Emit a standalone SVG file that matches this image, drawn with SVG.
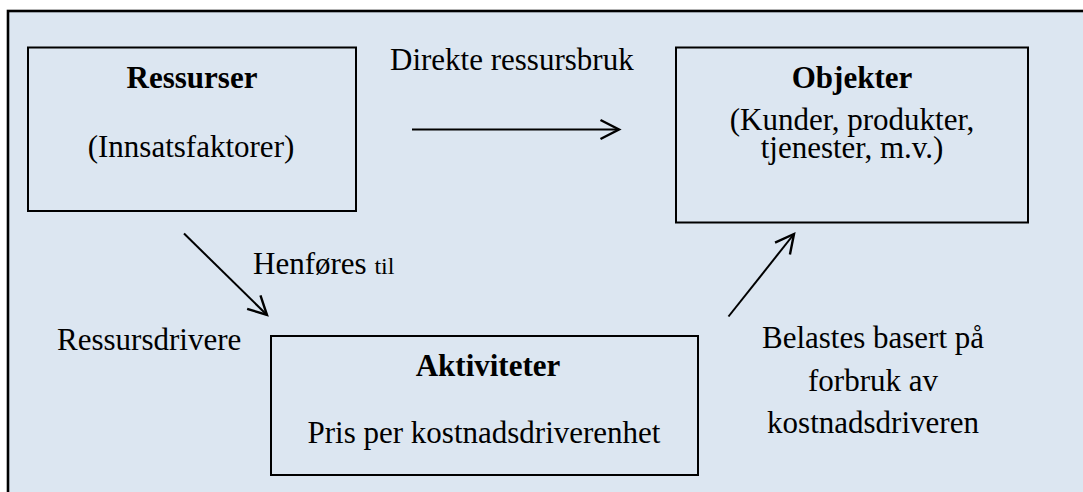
<svg xmlns="http://www.w3.org/2000/svg" width="1083" height="492" viewBox="0 0 1083 492">
  <style>
    text { font-family: 'Liberation Serif', 'Times New Roman', Times, serif; font-size: 31px; fill: #000; }
    .b { font-weight: bold; }
    .box { fill: none; stroke: #000; stroke-width: 2; }
    .conn { stroke: #000; stroke-width: 2; fill: none; }
  </style>
  <defs>
    <marker id="arrow" markerUnits="userSpaceOnUse" markerWidth="26" markerHeight="26" viewBox="0 0 26 26" refX="22" refY="13" orient="auto">
      <path d="M3.5,3.5 L22,13 L3.5,22.5" fill="none" stroke="#000" stroke-width="2.4"/>
    </marker>
  </defs>
  <rect x="0" y="0" width="1083" height="492" fill="#ffffff"/>
  <rect id="frame" x="8" y="11" width="1090" height="495" fill="#dce6f1" stroke="#000" stroke-width="2.6"/>

  <g id="ressurser" font-family="Liberation Serif, serif">
    <rect class="box" x="28" y="47.5" width="328" height="163.5"/>
    <text class="b" x="192" y="88" text-anchor="middle">Ressurser</text>
    <text x="191" y="156.5" text-anchor="middle">(Innsatsfaktorer)</text>
  </g>

  <g id="objekter" font-family="Liberation Serif, serif">
    <rect class="box" x="676" y="47.5" width="352" height="175"/>
    <text class="b" x="852" y="87.5" text-anchor="middle">Objekter</text>
    <text x="852" y="129.5" text-anchor="middle">(Kunder, produkter,</text>
    <text x="852" y="158" text-anchor="middle">tjenester, m.v.)</text>
  </g>

  <g id="aktiviteter" font-family="Liberation Serif, serif">
    <rect class="box" x="271" y="336" width="427" height="139"/>
    <text class="b" x="488" y="376" text-anchor="middle">Aktiviteter</text>
    <text x="484" y="443" text-anchor="middle">Pris per kostnadsdriverenhet</text>
  </g>

  <g id="connectors">
    <line class="conn" x1="412" y1="129.5" x2="619" y2="129.5" marker-end="url(#arrow)"/>
    <line class="conn" x1="184" y1="233.5" x2="267" y2="315" marker-end="url(#arrow)"/>
    <line class="conn" x1="728.5" y1="316.5" x2="794" y2="234" marker-end="url(#arrow)"/>
  </g>

  <g id="labels" font-family="Liberation Serif, serif">
    <text x="390" y="69.5">Direkte ressursbruk</text>
    <text x="253" y="273.5">Henføres <tspan font-size="24">til</tspan></text>
    <text x="57" y="350">Ressursdrivere</text>
    <text x="873" y="348" text-anchor="middle">Belastes basert på</text>
    <text x="873" y="390.5" text-anchor="middle">forbruk av</text>
    <text x="873" y="432.5" text-anchor="middle">kostnadsdriveren</text>
  </g>
</svg>
